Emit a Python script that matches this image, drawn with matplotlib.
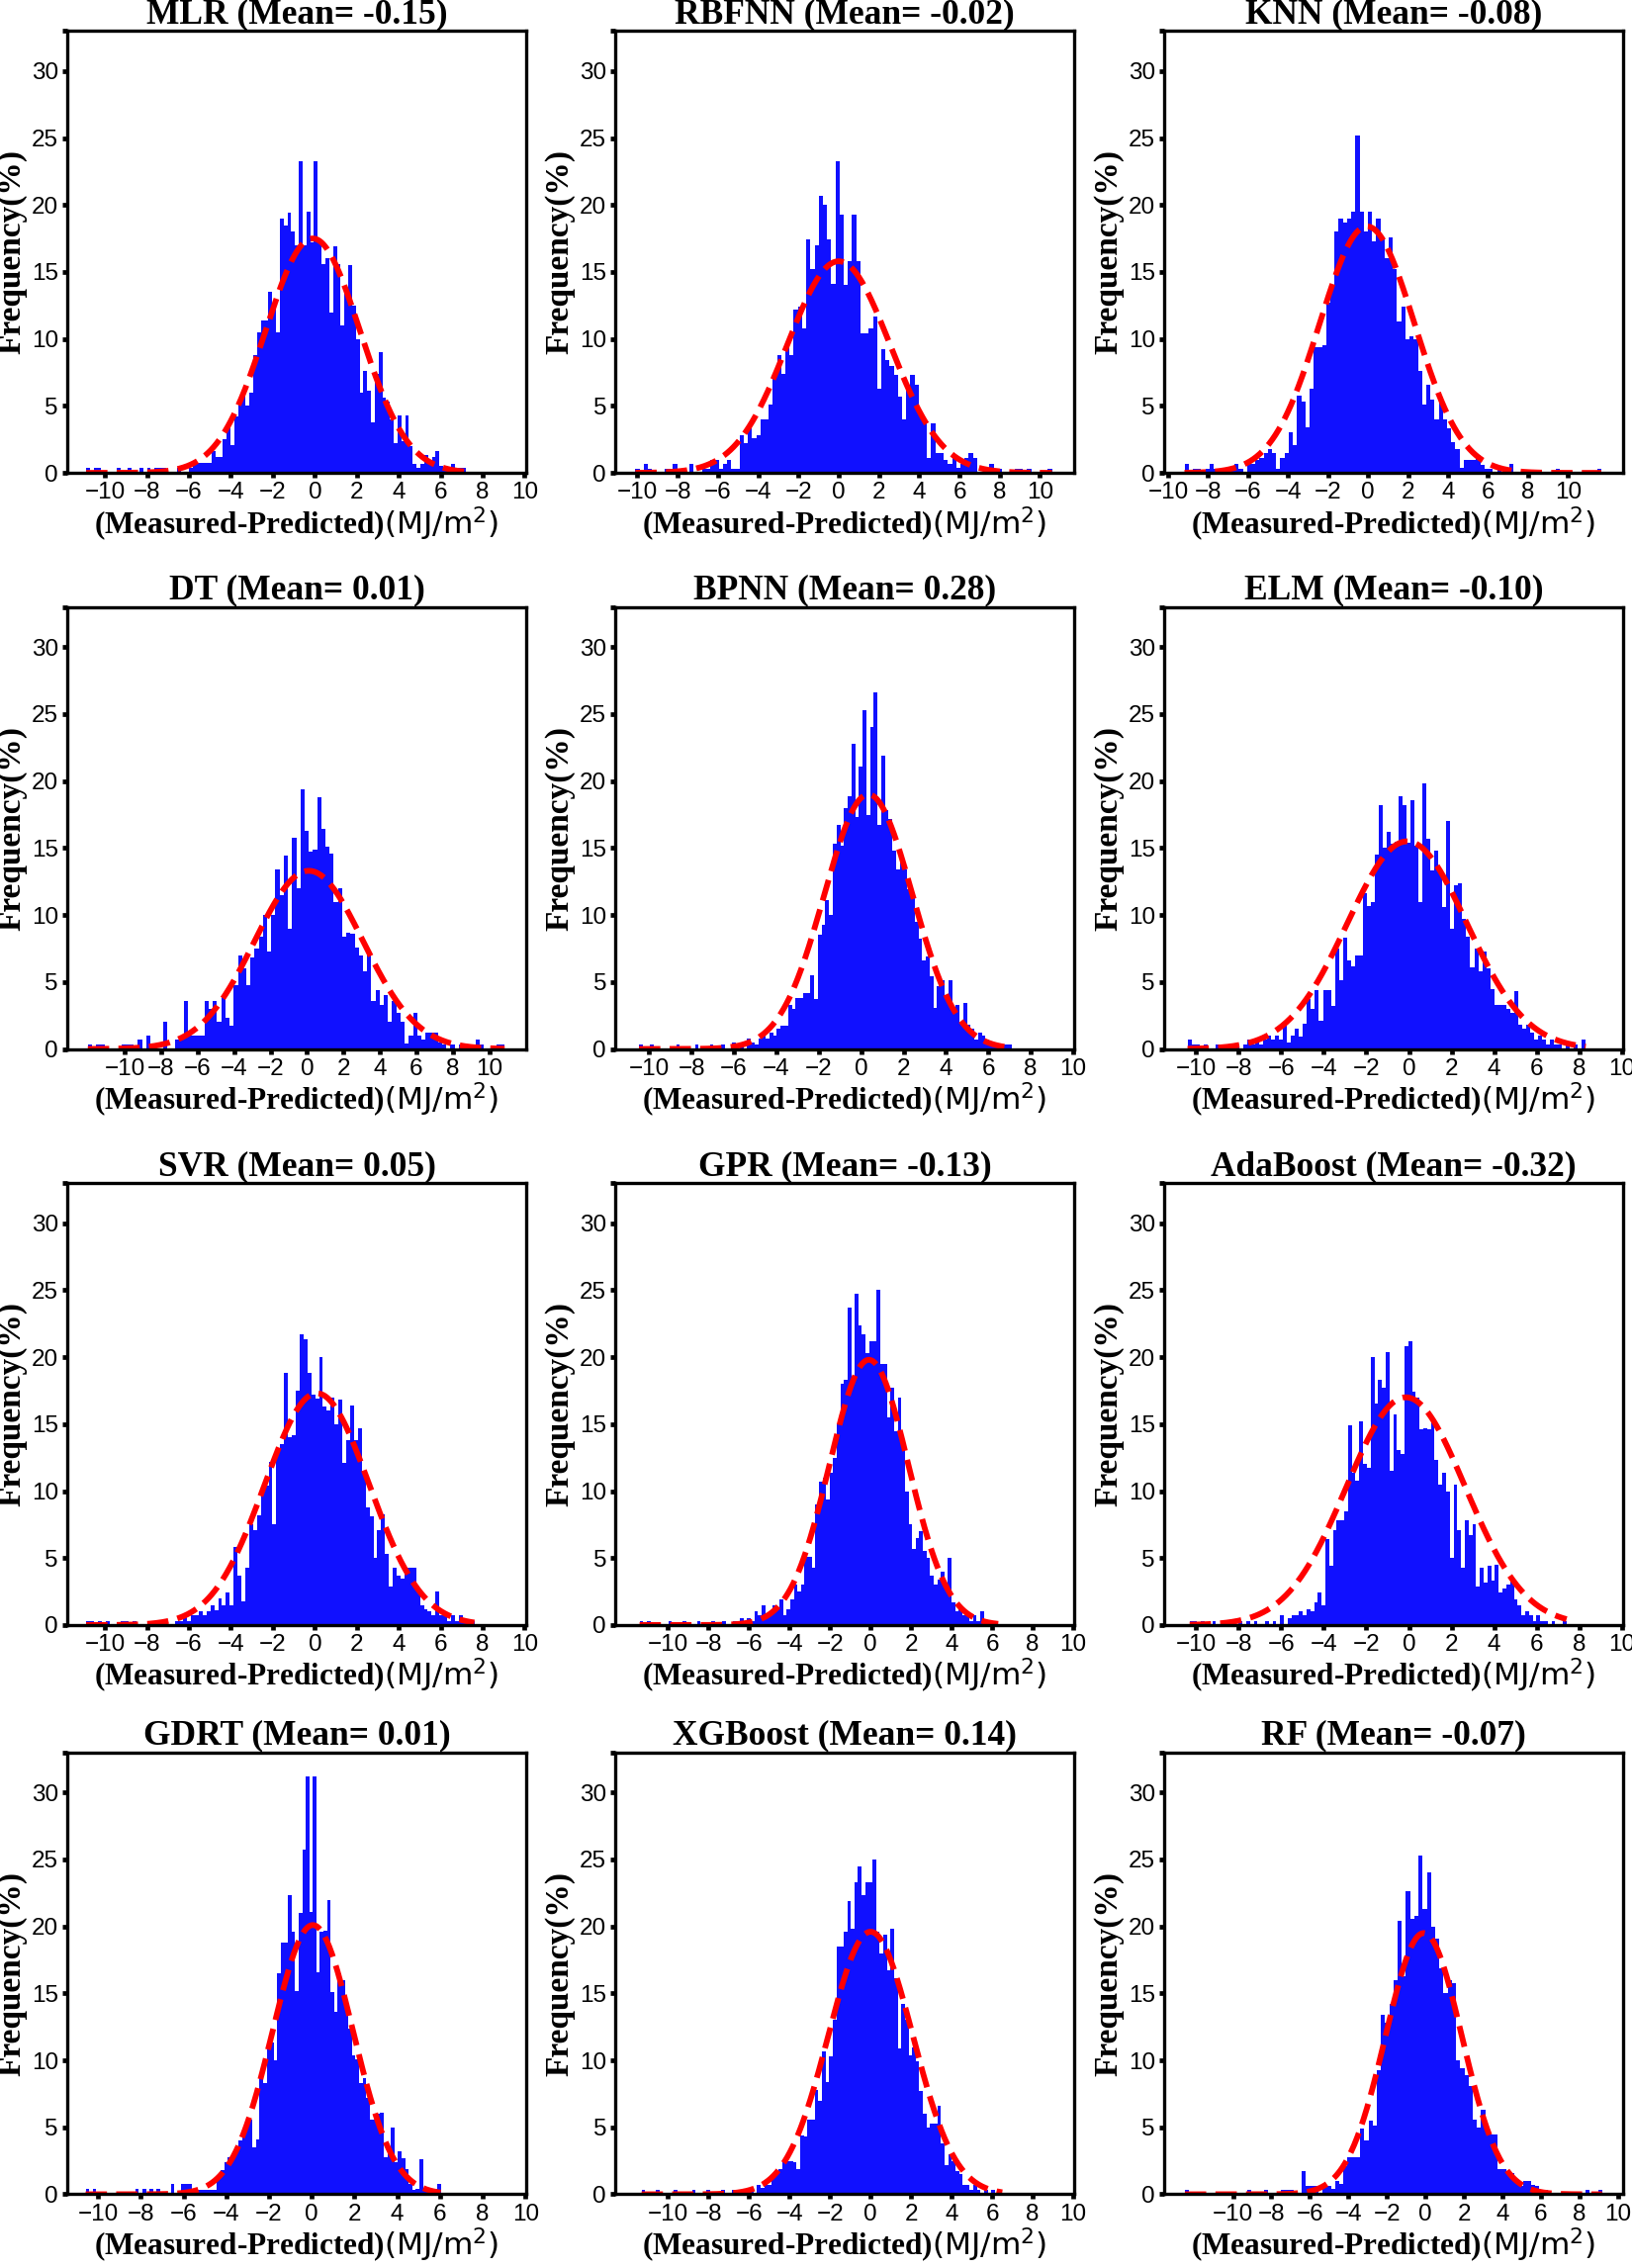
import matplotlib
matplotlib.use('Agg')
import matplotlib.pyplot as plt
import numpy as np

# model names and mean residuals shown in the titles
names = ['MLR', 'RBFNN', 'KNN', 'DT', 'BPNN', 'ELM',
         'SVR', 'GPR', 'AdaBoost', 'GDRT', 'XGBoost', 'RF']
means = ['-0.15', '-0.02', '-0.08', '0.01', '0.28', '-0.10',
         '0.05', '-0.13', '-0.32', '0.01', '0.14', '-0.07']

# histogram range (min, max of residuals), 100 bins each
hist_lo = [-10.9, -10.1, -9.18, -12.02, -10.48, -10.4, -10.9, -11.4, -10.3, -10.58, -11.3, -12.5]
hist_hi = [7.2, 10.6, 11.66, 10.84, 7.1, 8.3, 7.6, 6.3, 7.4, 6.03, 6.5, 9.18]

# frequency (%) of each bin
h_mlr = [0.37, 0, 0.37, 0.37, 0, 0, 0, 0, 0.37, 0,
         0, 0.37, 0, 0, 0.37, 0, 0.37, 0, 0.37, 0.37,
         0.37, 0, 0, 0, 0.37, 0, 0, 0.37, 0.74, 0.74,
         0.74, 0.74, 0.74, 1.6, 1.2, 1.2, 2.5, 3.4, 2.1, 4.2,
         5.6, 5.8, 5.0, 6.0, 8.8, 10.5, 11.4, 11.4, 13.5, 12.5,
         10.5, 19.0, 18.5, 19.4, 18.0, 17.0, 23.3, 17.0, 19.5, 17.2,
         23.3, 17.3, 15.6, 16.0, 12.0, 16.9, 15.6, 11.0, 13.6, 15.5,
         12.5, 10.0, 6.0, 7.6, 6.1, 3.8, 7.4, 9.0, 5.6, 5.3,
         4.0, 2.2, 4.3, 2.4, 4.3, 2.0, 0.7, 0.4, 0.7, 1.3,
         0.9, 1.2, 1.6, 0.5, 0.2, 0, 0.7, 0, 0.4, 0.37]
h_rbfnn = [0.3, 0, 0.7, 0.3, 0, 0, 0, 0.3, 0.3, 0.7,
           0.3, 0.3, 0, 0.7, 0, 0, 0.3, 0.3, 1.0, 1.0,
           0.3, 0.7, 1.0, 0.3, 0.3, 2.8, 2.2, 3.3, 2.6, 2.8,
           4.0, 4.0, 5.1, 7.3, 8.8, 7.4, 9.6, 8.8, 12.2, 12.4,
           10.8, 17.4, 15.2, 17.0, 20.7, 20.0, 17.4, 14.1, 23.3, 19.3,
           14.0, 15.8, 19.3, 15.8, 10.4, 10.4, 10.8, 11.7, 6.3, 9.2,
           8.4, 8.0, 7.3, 5.7, 4.0, 6.6, 7.3, 6.6, 4.4, 4.0,
           1.1, 3.7, 1.5, 1.5, 1.0, 0.7, 1.1, 0.4, 0.7, 1.1,
           1.5, 1.1, 0, 0, 0.3, 0.7, 0.3, 0.3, 0, 0,
           0, 0.3, 0.3, 0, 0.3, 0, 0, 0, 0, 0.3]
h_knn = [0.7, 0, 0.3, 0.3, 0, 0.3, 0.7, 0.3, 0, 0.3,
         0, 0.3, 0.7, 0.3, 0, 1.0, 0.7, 1.0, 1.1, 1.5,
         1.8, 1.5, 0.3, 1.1, 1.5, 3.0, 2.1, 5.8, 5.3, 3.4,
         6.3, 9.4, 9.4, 9.5, 12.7, 14.0, 18.0, 19.0, 18.7, 19.0,
         19.5, 25.2, 19.5, 18.0, 19.5, 17.3, 19.0, 17.5, 16.0, 17.6,
         15.2, 11.3, 12.4, 10.0, 10.2, 10.0, 7.6, 5.1, 6.6, 5.5,
         4.0, 5.6, 4.0, 3.3, 2.3, 1.8, 0.4, 1.0, 1.0, 1.0,
         1.3, 0.6, 0.3, 0.3, 0, 0.3, 0, 0, 0.7, 0,
         0, 0, 0, 0, 0, 0, 0, 0, 0, 0.3,
         0, 0, 0, 0, 0, 0, 0, 0, 0, 0.3]
h_dt = [0.3, 0, 0.3, 0.3, 0, 0, 0, 0, 0.3, 0.3,
        0.3, 0, 0.7, 0, 1.0, 0, 0, 0, 2.0, 0,
        0, 0.7, 1.0, 3.6, 1.0, 1.0, 1.0, 1.0, 3.6, 3.0,
        3.6, 2.0, 4.0, 2.3, 1.7, 4.8, 7.0, 6.0, 4.8, 6.8,
        7.5, 8.4, 10.0, 7.3, 10.0, 13.4, 11.5, 14.4, 9.0, 15.8,
        12.0, 19.4, 16.3, 14.7, 14.9, 18.8, 16.4, 15.1, 14.6, 11.0,
        12.0, 8.4, 8.7, 8.6, 7.6, 7.0, 5.8, 7.0, 3.6, 4.4,
        3.3, 4.0, 2.0, 3.6, 2.7, 2.0, 0.4, 1.0, 2.7, 1.0,
        0.7, 1.2, 1.2, 1.2, 0.5, 0.3, 0, 0.3, 0, 0.3,
        0, 0, 0, 0.7, 0.3, 0, 0, 0, 0.3, 0.3]
h_bpnn = [0.3, 0, 0, 0.3, 0, 0, 0, 0, 0, 0,
          0.3, 0, 0, 0, 0, 0.3, 0, 0, 0, 0.3,
          0, 0, 0.3, 0, 0, 0.5, 0, 0.3, 0, 0.8,
          0.5, 0.3, 0.8, 1.0, 0.8, 1.2, 1.0, 1.5, 1.7, 1.7,
          3.3, 3.0, 3.8, 3.8, 4.2, 4.2, 5.5, 3.7, 8.5, 9.3,
          11.1, 10.0, 15.3, 16.7, 15.2, 18.0, 18.9, 22.8, 17.3, 21.1,
          25.3, 17.5, 24.0, 26.6, 16.7, 21.9, 17.8, 17.2, 14.8, 13.4,
          14.1, 13.4, 11.9, 11.4, 9.5, 8.2, 6.6, 6.9, 5.4, 3.1,
          4.7, 5.1, 3.7, 5.1, 3.0, 3.3, 1.9, 3.4, 1.8, 1.5,
          0.7, 1.2, 1.0, 0.7, 0.5, 0.3, 0.3, 0, 0.3, 0.3]
h_elm = [0.7, 0.3, 0.3, 0, 0.3, 0, 0, 0.3, 0, 0.3,
         0, 0.3, 0.3, 0, 0.3, 0.7, 0.3, 0.7, 0.3, 0.7,
         1.0, 0.7, 1.0, 0.7, 1.9, 0.5, 1.0, 1.5, 0.9, 1.9,
         3.7, 3.0, 4.4, 2.1, 4.4, 4.4, 3.2, 7.5, 5.1, 8.3,
         6.6, 6.2, 7.0, 7.0, 11.6, 10.7, 11.0, 14.5, 18.2, 15.0,
         16.2, 15.3, 15.5, 18.9, 18.2, 15.4, 18.6, 15.2, 11.0, 19.8,
         15.7, 13.3, 14.8, 13.4, 10.6, 17.0, 9.0, 12.2, 12.4, 9.7,
         8.4, 6.1, 7.5, 5.8, 7.3, 6.0, 4.5, 3.3, 3.3, 3.3,
         3.0, 2.7, 4.3, 1.8, 1.5, 1.8, 1.2, 0.7, 1.0, 0.7,
         0.3, 0.7, 0.3, 0.3, 0, 0.3, 0, 0.3, 0, 0.7]
h_svr = [0.3, 0.3, 0, 0.3, 0, 0.3, 0, 0, 0, 0.3,
         0.3, 0, 0.3, 0, 0, 0, 0.3, 0, 0.3, 0,
         0, 0, 0, 0.3, 0.3, 0.7, 0.3, 0.7, 0.7, 1.0,
         0.7, 1.0, 1.5, 1.1, 2.0, 1.5, 2.4, 1.5, 5.8, 3.7,
         1.8, 4.3, 7.5, 7.1, 8.2, 10.0, 10.4, 12.2, 7.5, 13.0,
         13.5, 18.8, 14.0, 14.2, 17.5, 21.7, 21.3, 18.8, 17.2, 16.9,
         20.0, 16.3, 16.0, 17.0, 15.0, 16.8, 12.1, 13.8, 16.4, 13.8,
         14.7, 11.5, 8.8, 8.1, 5.0, 7.1, 8.3, 5.3, 2.9, 4.3,
         3.7, 3.5, 4.3, 4.3, 4.3, 2.7, 1.5, 1.2, 1.0, 0.7,
         2.5, 0.7, 1.0, 0.3, 0.7, 0.3, 0.7, 0.3, 0, 0.3]
h_gpr = [0.3, 0, 0.3, 0, 0, 0, 0, 0, 0.3, 0,
         0, 0, 0.3, 0, 0, 0, 0.3, 0, 0, 0,
         0.3, 0, 0, 0.3, 0, 0, 0.3, 0, 0.5, 0,
         0.5, 0.3, 1.0, 0.7, 1.5, 0.7, 1.0, 1.5, 1.2, 1.9,
         0.7, 1.2, 1.9, 3.0, 2.5, 3.0, 5.1, 5.1, 4.3, 9.0,
         10.7, 11.0, 9.4, 11.4, 12.5, 15.0, 18.0, 18.3, 23.7, 18.3,
         24.7, 22.4, 21.7, 20.3, 21.2, 21.2, 25.0, 19.5, 19.5, 15.5,
         17.7, 14.5, 17.0, 13.7, 10.0, 7.5, 5.7, 6.5, 7.0, 5.5,
         5.0, 3.7, 3.0, 3.4, 4.0, 2.7, 5.0, 1.7, 1.0, 1.5,
         0.7, 1.0, 0.3, 0.7, 0.3, 1.0, 0.3, 0.3, 0, 0.3]
h_ada = [0.3, 0.3, 0, 0.3, 0, 0, 0.3, 0, 0, 0,
         0.3, 0, 0, 0.3, 0, 0.3, 0, 0.3, 0, 0,
         0.3, 0, 0.3, 0, 0.7, 0, 0.5, 0.7, 0.7, 1.0,
         0.7, 1.2, 1.0, 1.7, 2.4, 1.5, 6.4, 4.4, 7.1, 7.8,
         7.8, 8.5, 14.9, 11.4, 10.8, 15.2, 12.0, 11.7, 20.0, 16.5,
         18.3, 17.7, 20.4, 11.5, 15.7, 13.1, 12.8, 20.8, 21.2, 17.4,
         17.0, 14.6, 14.7, 14.6, 15.6, 12.3, 10.5, 11.4, 10.0, 5.0,
         10.5, 7.1, 4.3, 7.8, 6.7, 7.5, 2.9, 4.3, 3.2, 4.4,
         3.3, 4.5, 2.4, 2.7, 3.0, 3.3, 1.9, 1.5, 0.7, 1.0,
         0.7, 0.3, 0.7, 0.3, 0.3, 0, 0.3, 0, 0, 0.3]
h_gdrt = [0.4, 0, 0.4, 0.1, 0, 0, 0, 0, 0, 0,
          0, 0, 0, 0, 0.4, 0, 0.4, 0, 0.4, 0,
          0.4, 0, 0, 0, 0.8, 0, 0, 0.8, 0.8, 0.8,
          0.3, 0.3, 0.3, 0.3, 0.3, 0.3, 0.3, 1.4, 1.8, 2.4,
          2.8, 3.0, 3.3, 4.0, 4.6, 5.3, 5.6, 3.5, 4.1, 8.7,
          8.3, 11.2, 11.3, 10.0, 16.5, 18.8, 18.8, 22.3, 19.6, 15.2,
          21.0, 25.7, 31.2, 21.1, 31.2, 16.6, 19.6, 19.7, 22.0, 15.1,
          13.6, 16.5, 16.0, 14.5, 12.4, 10.4, 10.1, 8.3, 8.7, 7.2,
          5.6, 5.6, 6.0, 6.1, 2.8, 3.3, 5.0, 2.4, 3.2, 2.7,
          1.9, 0.8, 0.3, 0.4, 2.6, 0.4, 0.4, 0.4, 0.4, 0.8]
h_xgb = [0.3, 0, 0, 0, 0.3, 0, 0, 0, 0, 0.3,
         0, 0, 0, 0, 0.3, 0, 0, 0, 0.3, 0,
         0, 0, 0.3, 0, 0, 0.3, 0, 0, 0.3, 0,
         0.5, 0, 0.7, 0.5, 1.0, 0.7, 1.2, 1.5, 1.9, 2.5,
         2.5, 2.5, 2.4, 1.9, 4.4, 4.3, 5.6, 5.6, 7.8, 7.0,
         10.7, 8.4, 10.3, 13.0, 18.5, 18.5, 19.6, 21.9, 19.8, 23.3,
         24.5, 22.3, 23.3, 23.3, 25.0, 19.6, 18.0, 19.4, 16.7, 19.8,
         16.1, 10.9, 14.2, 13.0, 10.4, 11.0, 9.9, 7.7, 6.0, 5.0,
         5.3, 5.3, 6.6, 3.8, 2.2, 3.0, 2.5, 1.7, 1.5, 0.7,
         0.7, 0.3, 0.7, 0.3, 0, 0.3, 0, 0.3, 0, 0.3]
h_rf = [0.3, 0, 0, 0, 0, 0, 0, 0, 0, 0,
        0, 0, 0, 0, 0, 0.3, 0, 0, 0, 0.3,
        0, 0, 0, 0.3, 0.3, 0.3, 0, 0, 1.7, 0.6,
        0.6, 0.6, 0, 0.8, 0.6, 0.4, 1.0, 0.8, 2.1, 2.8,
        2.8, 2.8, 4.9, 4.0, 5.5, 5.1, 9.3, 13.4, 12.8, 14.2,
        16.0, 20.4, 16.3, 22.6, 20.6, 20.8, 25.3, 21.3, 24.0, 20.0,
        19.1, 16.9, 15.0, 16.0, 15.8, 10.0, 9.4, 8.9, 8.1, 5.6,
        5.0, 6.3, 5.0, 4.5, 4.5, 1.9, 1.9, 1.6, 1.6, 1.0,
        0.6, 1.0, 1.0, 0.7, 0.6, 0.3, 0.3, 0, 0, 0,
        0, 0, 0, 0, 0, 0, 0.3, 0, 0, 0.3]
heights = [h_mlr, h_rbfnn, h_knn, h_dt, h_bpnn, h_elm,
           h_svr, h_gpr, h_ada, h_gdrt, h_xgb, h_rf]

# fitted normal curve: centre, spread, peak height (%)
fit_mu = [-0.1, 0.0, -0.05, 0.1, 0.34, -0.09, 0.1, -0.08, -0.15, 0.05, 0.0, -0.09]
fit_sd = [2.25, 2.55, 2.37, 2.97, 2.08, 2.8, 2.49, 1.94, 2.79, 1.88, 2.08, 1.98]
fit_peak = [17.5, 15.8, 18.4, 13.3, 19.0, 15.5, 17.3, 19.8, 17.0, 20.1, 19.6, 19.5]

# x axis limits of each panel
x_lims = [(-11.8, 10.07), (-11.1, 11.7), (-10.2, 12.75), (-13.15, 12.02),
          (-11.6, 10.05), (-11.5, 10.05), (-11.8, 10.07), (-12.6, 10.05),
          (-11.5, 10.05), (-11.44, 10.03), (-12.6, 10.05), (-13.58, 10.27)]

serif = 'Liberation Serif'
sans = 'Liberation Sans'

fig = plt.figure(figsize=(16.5, 22.93), dpi=100)
lefts = [0.0412, 0.3770, 0.7133]
bottoms = [0.7915, 0.5375, 0.2835, 0.0325]
w_ax = 0.2812
h_ax = 0.1949

for k in range(12):
    r, c = k // 3, k % 3
    ax = fig.add_axes([lefts[c], bottoms[r], w_ax, h_ax])
    edges = np.linspace(hist_lo[k], hist_hi[k], len(heights[k]) + 1)
    ax.stairs(heights[k], edges, fill=True, color='#1010ff', linewidth=0)

    xs = np.linspace(hist_lo[k], hist_hi[k], 400)
    ys = fit_peak[k] * np.exp(-0.5 * ((xs - fit_mu[k]) / fit_sd[k]) ** 2)
    ax.plot(xs, ys, color='red', linestyle='--', linewidth=4.2)

    ax.set_xlim(x_lims[k])
    ax.set_ylim(0, 33)
    ax.set_xticks(np.arange(-10, 11, 2))
    ax.set_yticks([0, 5, 10, 15, 20, 25, 30, 33])
    ax.set_yticklabels(['0', '5', '10', '15', '20', '25', '30', ''])
    ax.tick_params(direction='out', length=3.5, width=3.4, labelsize=17.5, pad=3)
    for lab in ax.get_xticklabels() + ax.get_yticklabels():
        lab.set_fontfamily(sans)
    for sp in ax.spines.values():
        sp.set_linewidth(2.4)

    ax.set_title('%s (Mean= %s)' % (names[k], means[k]), fontfamily=serif,
                 fontweight='bold', fontsize=25.5, pad=2)
    ax.set_ylabel('Frequency(%)', fontfamily=serif, fontweight='bold',
                  fontsize=24, labelpad=3)
    ax.set_xlabel('(Measured-Predicted)$\\mathrm{(MJ/m^2)}$', fontfamily=serif,
                  fontweight='bold', fontsize=22.5, labelpad=1)

fig.savefig('out.png', dpi=100)
